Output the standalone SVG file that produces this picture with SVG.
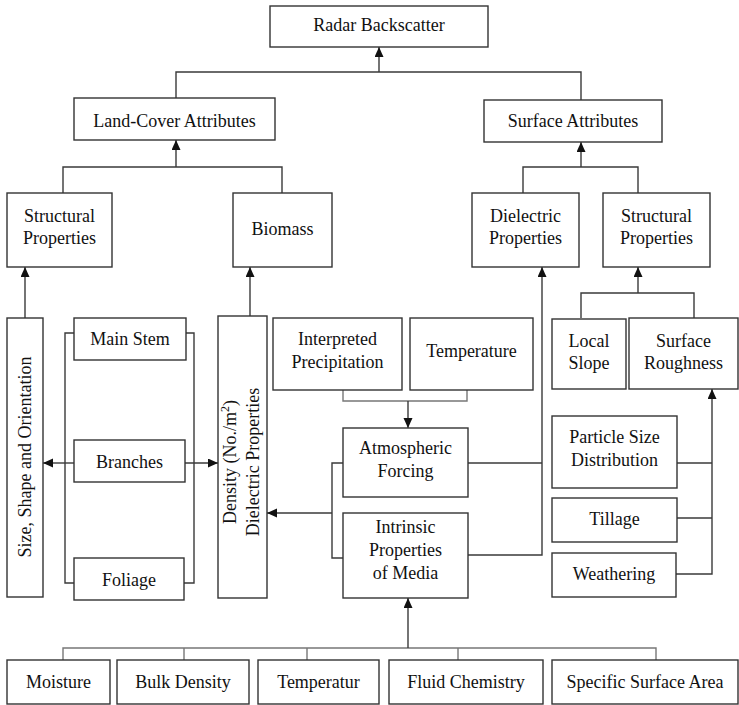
<svg xmlns="http://www.w3.org/2000/svg" width="739" height="705" viewBox="0 0 739 705">
<style>
.box{fill:#fff;stroke:#333;stroke-width:1.4}
.t{font-family:"Liberation Serif","Times New Roman",serif;font-size:18px;fill:#111;text-anchor:middle}
.c{fill:none;stroke:#3a3a3a;stroke-width:1.4}
.g{fill:none;stroke:#777;stroke-width:1.4}
.a{fill:none;stroke:#3a3a3a;stroke-width:1.4;marker-end:url(#ah)}
</style>
<defs>
<marker id="ah" markerUnits="userSpaceOnUse" markerWidth="10" markerHeight="10" refX="10" refY="4.5" orient="auto">
<path d="M0,0 L10,4.5 L0,9 z" fill="#111"/>
</marker>
</defs>
<rect width="739" height="705" fill="#fff"/>
<g id="connectors">
<path class="c" d="M176,98 V72 H581 V100"/>
<path class="a" d="M379,72 V47"/>
<path class="c" d="M63,193 V167 H282 V193"/>
<path class="a" d="M176,167 V140"/>
<path class="c" d="M523,193 V167 H638 V193"/>
<path class="a" d="M581,167 V142"/>
<path class="a" d="M25,318 V267"/>
<path class="a" d="M250,316 V267"/>
<path class="c" d="M74,333 H65 V583 H74"/>
<path class="a" d="M74,463 H43"/>
<path class="c" d="M186,333 H194 V583 H184"/>
<path class="a" d="M185,463 H218"/>
<path class="g" d="M343,390 V401 H467 V390"/>
<path class="a" d="M408,401 V428"/>
<path class="c" d="M343,463 H332 V558 H343"/>
<path class="a" d="M332,513 H267"/>
<path class="c" d="M468,463 H542"/>
<path class="a" d="M468,555 H542 V267"/>
<path class="c" d="M581,318 V293 H694 V318"/>
<path class="a" d="M638,293 V267"/>
<path class="c" d="M677,463 H712"/>
<path class="c" d="M677,518 H712"/>
<path class="a" d="M676,574 H712 V389"/>
<path class="g" d="M63,660 V648 H656 V660 M184,648 V660 M307,648 V660 M458,648 V660"/>
<path class="a" d="M408,648 V598"/>
</g>
<g id="radar"><rect class="box" x="270" y="6" width="218" height="41"/><text class="t" x="379" y="31">Radar Backscatter</text></g>
<g id="landcover"><rect class="box" x="74" y="98" width="201" height="42"/><text class="t" x="174.5" y="127">Land-Cover Attributes</text></g>
<g id="surface"><rect class="box" x="484" y="100" width="178" height="42"/><text class="t" x="573" y="127">Surface Attributes</text></g>
<g id="structural-left"><rect class="box" x="7" y="193" width="105" height="74"/><text class="t" x="59.5" y="222">Structural</text><text class="t" x="59.5" y="244">Properties</text></g>
<g id="biomass"><rect class="box" x="233" y="193" width="99" height="74"/><text class="t" x="282.5" y="235">Biomass</text></g>
<g id="dielectric"><rect class="box" x="472" y="193" width="107" height="74"/><text class="t" x="525.5" y="222">Dielectric</text><text class="t" x="525.5" y="244">Properties</text></g>
<g id="structural-right"><rect class="box" x="603" y="193" width="107" height="74"/><text class="t" x="656.5" y="222">Structural</text><text class="t" x="656.5" y="244">Properties</text></g>
<g id="size-shape"><rect class="box" x="7" y="318" width="36" height="279"/><text class="t" transform="translate(31,457) rotate(-90)">Size, Shape and Orientation</text></g>
<g id="main-stem"><rect class="box" x="74" y="318" width="112" height="42"/><text class="t" x="130" y="345">Main Stem</text></g>
<g id="branches"><rect class="box" x="74" y="440" width="111" height="42"/><text class="t" x="129.5" y="468">Branches</text></g>
<g id="foliage"><rect class="box" x="74" y="558" width="110" height="42"/><text class="t" x="129" y="586">Foliage</text></g>
<g id="density"><rect class="box" x="218" y="316" width="49" height="282"/><text class="t" transform="translate(236,462) rotate(-90)">Density (No./m<tspan font-size="12" dy="-7">2</tspan><tspan dy="7">)</tspan></text><text class="t" transform="translate(259,462) rotate(-90)">Dielectric Properties</text></g>
<g id="interpreted"><rect class="box" x="273" y="318" width="129" height="72"/><text class="t" x="337.5" y="345">Interpreted</text><text class="t" x="337.5" y="368">Precipitation</text></g>
<g id="temperature"><rect class="box" x="410" y="318" width="123" height="72"/><text class="t" x="471.5" y="357">Temperature</text></g>
<g id="atmospheric"><rect class="box" x="343" y="428" width="125" height="69"/><text class="t" x="405.5" y="454">Atmospheric</text><text class="t" x="405.5" y="477">Forcing</text></g>
<g id="intrinsic"><rect class="box" x="343" y="513" width="125" height="85"/><text class="t" x="405.5" y="533">Intrinsic</text><text class="t" x="405.5" y="556">Properties</text><text class="t" x="405.5" y="579">of Media</text></g>
<g id="local-slope"><rect class="box" x="552" y="319" width="74" height="70"/><text class="t" x="589" y="347">Local</text><text class="t" x="589" y="369">Slope</text></g>
<g id="surface-roughness"><rect class="box" x="629" y="318" width="109" height="71"/><text class="t" x="683.5" y="347">Surface</text><text class="t" x="683.5" y="369">Roughness</text></g>
<g id="particle"><rect class="box" x="552" y="416" width="125" height="72"/><text class="t" x="614.5" y="443">Particle Size</text><text class="t" x="614.5" y="466">Distribution</text></g>
<g id="tillage"><rect class="box" x="552" y="498" width="125" height="44"/><text class="t" x="614.5" y="525">Tillage</text></g>
<g id="weathering"><rect class="box" x="552" y="553" width="124" height="44"/><text class="t" x="614" y="580">Weathering</text></g>
<g id="moisture"><rect class="box" x="7" y="660" width="103" height="44"/><text class="t" x="58.5" y="688">Moisture</text></g>
<g id="bulk-density"><rect class="box" x="117" y="660" width="132" height="44"/><text class="t" x="183" y="688">Bulk Density</text></g>
<g id="temperatur"><rect class="box" x="258" y="660" width="121" height="44"/><text class="t" x="318.5" y="688">Temperatur</text></g>
<g id="fluid"><rect class="box" x="389" y="660" width="154" height="44"/><text class="t" x="466" y="688">Fluid Chemistry</text></g>
<g id="specific"><rect class="box" x="552" y="660" width="186" height="44"/><text class="t" x="645" y="688">Specific Surface Area</text></g>
</svg>
